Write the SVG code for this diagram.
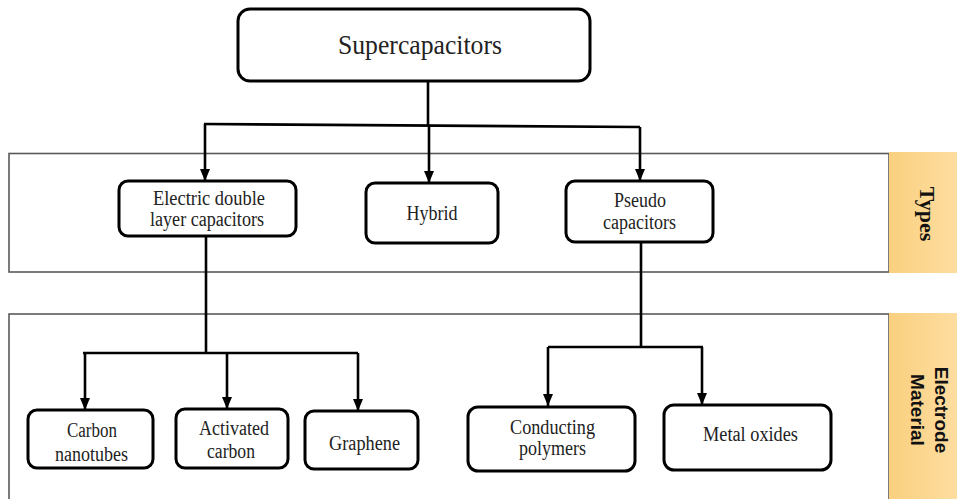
<svg xmlns="http://www.w3.org/2000/svg" width="957" height="499" viewBox="0 0 957 499">
<defs>
<linearGradient id="og" x1="0" y1="0" x2="1" y2="0">
<stop offset="0" stop-color="#FAD07F"/>
<stop offset="1" stop-color="#FDDDA0"/>
</linearGradient>
<marker id="ah" viewBox="0 0 12 10" refX="12" refY="5" markerWidth="12" markerHeight="10" markerUnits="userSpaceOnUse" orient="auto">
<path d="M0,0 L12,5 L0,10 Z" fill="#000"/>
</marker>
<style>
.band{fill:#fff;stroke:#5a5a5a;stroke-width:1.6}
.lab{fill:url(#og)}
.node{fill:#fff;stroke:#000;stroke-width:3}
.t{font-family:'Liberation Serif','DejaVu Serif',serif;font-size:20px;fill:#222;text-anchor:middle}
.c{fill:none;stroke:#000;stroke-width:2.6}
</style>
</defs>
<rect width="957" height="499" fill="#fff"/>
<g id="band-types">
<rect class="band" x="9" y="153.5" width="880" height="118.5"/>
<rect class="lab" x="889" y="152" width="68" height="121"/>
<text transform="translate(920,214) rotate(90)" text-anchor="middle" font-family="Liberation Serif, DejaVu Serif, serif" font-weight="bold" font-size="22" fill="#111">Types</text>
</g>
<g id="band-material">
<rect class="band" x="9" y="314" width="880" height="200"/>
<rect class="lab" x="889" y="313" width="68" height="186"/>
<text transform="translate(928,410) rotate(90)" text-anchor="middle" font-family="Liberation Sans, Arial, sans-serif" font-weight="bold" font-size="19" fill="#111"><tspan x="0" y="-7">Electrode</tspan><tspan x="0" y="17">Material</tspan></text>
</g>
<g id="connectors">
<path class="c" d="M428,81 V125"/>
<path class="c" d="M204,124 L640,127"/>
<path class="c" d="M205,124 V181" marker-end="url(#ah)"/>
<path class="c" d="M429,125 V183" marker-end="url(#ah)"/>
<path class="c" d="M640,127 V181" marker-end="url(#ah)"/>
<path class="c" d="M206,236 V353"/>
<path class="c" d="M83,353 H358"/>
<path class="c" d="M85,353 V410" marker-end="url(#ah)"/>
<path class="c" d="M227,353 V409" marker-end="url(#ah)"/>
<path class="c" d="M358,353 V411" marker-end="url(#ah)"/>
<path class="c" d="M641,242 V347"/>
<path class="c" d="M548,347 H703"/>
<path class="c" d="M548,347 V406" marker-end="url(#ah)"/>
<path class="c" d="M702,347 V405" marker-end="url(#ah)"/>
</g>
<g id="supercapacitors">
<rect class="node" x="238" y="9" width="352" height="72" rx="12"/>
<text x="420" y="54" font-family="Liberation Serif, DejaVu Serif, serif" font-size="28" fill="#222" text-anchor="middle" textLength="164" lengthAdjust="spacingAndGlyphs">Supercapacitors</text>
</g>
<g id="edlc">
<rect class="node" x="119" y="181" width="177" height="55" rx="9"/>
<text class="t" x="209" y="205" textLength="112" lengthAdjust="spacingAndGlyphs">Electric double</text>
<text class="t" x="207" y="226" textLength="114" lengthAdjust="spacingAndGlyphs">layer capacitors</text>
</g>
<g id="hybrid">
<rect class="node" x="366" y="183" width="132" height="60" rx="9"/>
<text class="t" x="432" y="220" textLength="51" lengthAdjust="spacingAndGlyphs">Hybrid</text>
</g>
<g id="pseudo">
<rect class="node" x="566" y="181" width="147" height="61" rx="9"/>
<text class="t" x="640" y="207" textLength="52" lengthAdjust="spacingAndGlyphs">Pseudo</text>
<text class="t" x="639.5" y="229" textLength="73" lengthAdjust="spacingAndGlyphs">capacitors</text>
</g>
<g id="carbon-nanotubes">
<rect class="node" x="28" y="410" width="125" height="58" rx="9"/>
<text class="t" x="92" y="437" textLength="50" lengthAdjust="spacingAndGlyphs">Carbon</text>
<text class="t" x="91.5" y="461" textLength="73" lengthAdjust="spacingAndGlyphs">nanotubes</text>
</g>
<g id="activated-carbon">
<rect class="node" x="176" y="409" width="112" height="59" rx="9"/>
<text class="t" x="234" y="435" textLength="70" lengthAdjust="spacingAndGlyphs">Activated</text>
<text class="t" x="231" y="458" textLength="48" lengthAdjust="spacingAndGlyphs">carbon</text>
</g>
<g id="graphene">
<rect class="node" x="305" y="411" width="113" height="58" rx="9"/>
<text class="t" x="364.5" y="450" textLength="71" lengthAdjust="spacingAndGlyphs">Graphene</text>
</g>
<g id="conducting-polymers">
<rect class="node" x="468" y="407" width="167" height="64" rx="10"/>
<text class="t" x="552.5" y="434" textLength="85" lengthAdjust="spacingAndGlyphs">Conducting</text>
<text class="t" x="552.5" y="455" textLength="67" lengthAdjust="spacingAndGlyphs">polymers</text>
</g>
<g id="metal-oxides">
<rect class="node" x="664" y="405" width="167" height="65" rx="10"/>
<text class="t" x="750.5" y="441" textLength="95" lengthAdjust="spacingAndGlyphs">Metal oxides</text>
</g>
</svg>
